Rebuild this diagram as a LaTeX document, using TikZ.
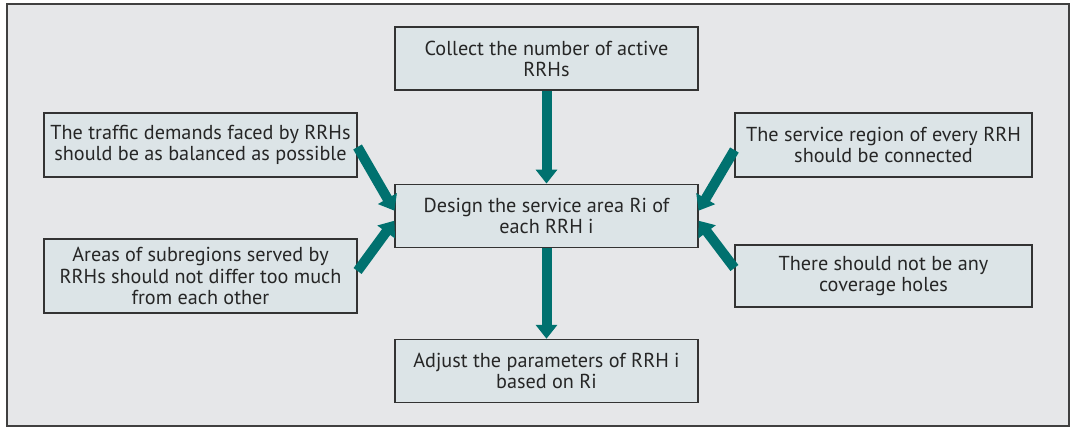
\documentclass[tikz,border=0pt]{standalone}
\usepackage{fontspec}
\setmainfont{PT Sans}
\usepackage{tikz}
\usetikzlibrary{arrows.meta, positioning}
\definecolor{panelbg}{HTML}{E6E7E9}
\definecolor{boxfill}{HTML}{DCE4E7}
\definecolor{boxline}{HTML}{333333}
\definecolor{tealarrow}{HTML}{00716F}
\tikzset{
  block/.style={
    rectangle,
    draw=boxline,
    line width=0.7pt,
    fill=boxfill,
    text=black!85,
    align=center,
    inner sep=0pt,
    font=\fontsize{11.5}{12}\selectfont
  },
  arrow/.style={
    draw=tealarrow,
    line width=0.2cm,
    -{Triangle[width=0.42cm, length=0.28cm]}
  }
}

\begin{document}
\begin{tikzpicture}[x=0.02cm, y=-0.02cm]
\useasboundingbox (0,0) rectangle (1080,429);
\draw[fill=panelbg, draw=black!75, line width=0.9pt] (7,4) rectangle (1069,426);

% --- centre column ---
\node (collect) [block, minimum width=6.06cm, minimum height=1.26cm] at (546.5,58.5) {Collect the number of active\\RRHs};
\node (design) [block, below=1.86cm of collect, minimum width=6.06cm, minimum height=1.26cm] {Design the service area Ri of\\each RRH i};
\node (adjust) [block, below=1.82cm of design, minimum width=6.06cm, minimum height=1.26cm] {Adjust the parameters of RRH i\\based on Ri};

% --- left side ---
\node (traffic) [block, minimum width=6.26cm, minimum height=1.28cm] at (200.5,145) {The traffic demands faced by RRHs\\should be as balanced as possible};
\node (areas) [block, minimum width=6.26cm, minimum height=1.48cm] at (200.5,276) {Areas of subregions served by\\RRHs should not differ too much\\from each other};

% --- right side ---
\node (connected) [block, minimum width=5.94cm, minimum height=1.28cm] at (883.5,145) {The service region of every RRH\\should be connected};
\node (holes) [block, minimum width=5.94cm, minimum height=1.24cm] at (883.5,276) {There should not be any\\coverage holes};

% --- arrows ---
\draw[arrow] (collect) -- (design);
\draw[arrow] (design) -- (adjust);
\draw[arrow] ([yshift=-0.04cm]traffic.east) -- ([yshift=0.1cm]design.west);
\draw[arrow] ([yshift=0.1cm]areas.east) -- ([yshift=-0.1cm]design.west);
\draw[arrow] ([yshift=-0.1cm]connected.west) -- ([yshift=0.1cm]design.east);
\draw[arrow] ([yshift=0.16cm]holes.west) -- ([yshift=-0.1cm]design.east);

\end{tikzpicture}
\end{document}
